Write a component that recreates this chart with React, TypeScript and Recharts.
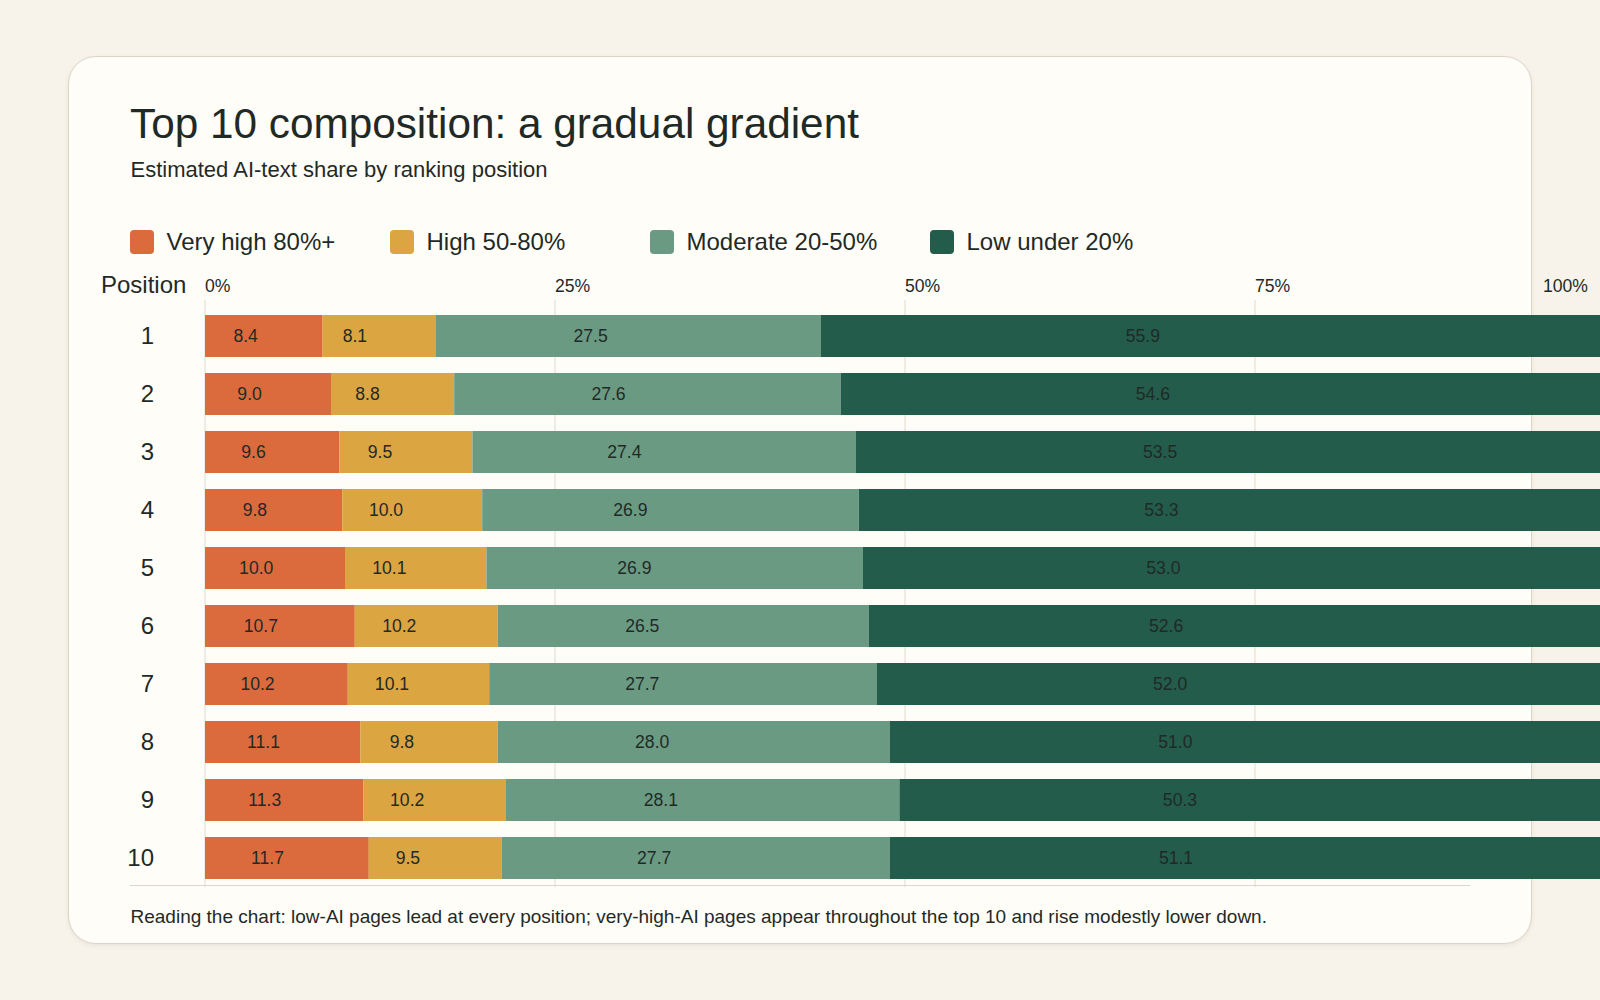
import React from "react";
import { BarChart, Bar, XAxis, YAxis, CartesianGrid, LabelList } from "recharts";

// Ranking positions and the AI-text share buckets (percent of pages)
const positions = ["1", "2", "3", "4", "5", "6", "7", "8", "9", "10"];
const veryHigh = [8.4, 9.0, 9.6, 9.8, 10.0, 10.7, 10.2, 11.1, 11.3, 11.7];
const high = [8.1, 8.8, 9.5, 10.0, 10.1, 10.2, 10.1, 9.8, 10.2, 9.5];
const moderate = [27.5, 27.6, 27.4, 26.9, 26.9, 26.5, 27.7, 28.0, 28.1, 27.7];
const low = [55.9, 54.6, 53.5, 53.3, 53.0, 52.6, 52.0, 51.0, 50.3, 51.1];
const xTicks = [0, 25, 50, 75, 100];

const SERIES = [
  { key: "veryHigh", name: "Very high 80%+", color: "#db6b3d", left: 130 },
  { key: "high", name: "High 50-80%", color: "#dba542", left: 390 },
  { key: "moderate", name: "Moderate 20-50%", color: "#6b9a83", left: 650 },
  { key: "low", name: "Low under 20%", color: "#245c4c", left: 930 },
];

const data = positions.map((pos, i) => ({
  pos,
  veryHigh: veryHigh[i],
  high: high[i],
  moderate: moderate[i],
  low: low[i],
}));

const FONT = '"Liberation Sans", Arial, Helvetica, sans-serif';
const INK = "#1f2a26";
const PLOT_LEFT = 105; // y-axis width inside the svg

const ValueLabel = (props: any) => {
  const { x, y, width, height, value } = props;
  const cx = x + width / 2;
  // labels sit a little left of the segment centre, as in the original
  const lx = PLOT_LEFT - 15 + (cx - PLOT_LEFT) * 0.946;
  return (
    <text
      x={lx}
      y={y + height / 2}
      dy="0.35em"
      textAnchor="middle"
      fontSize={17.6}
      fontFamily={FONT}
      fill={INK}
    >
      {Number(value).toFixed(1)}
    </text>
  );
};

const XTick = (props: any) => {
  const { x, y, payload } = props;
  const last = payload.value === 100;
  return (
    <text
      x={last ? x - 17 : x}
      y={y}
      textAnchor={last ? "end" : "start"}
      fontSize={17.6}
      fontFamily={FONT}
      fill={INK}
    >
      {payload.value}%
    </text>
  );
};

const YTick = (props: any) => {
  const { x, y, payload } = props;
  return (
    <text
      x={x}
      y={y}
      dy="0.35em"
      textAnchor="end"
      fontSize={24}
      fontFamily={FONT}
      fill={INK}
    >
      {payload.value}
    </text>
  );
};

const Legend = () => (
  <>
    {SERIES.map((s) => (
      <div
        key={s.key}
        style={{
          position: "absolute",
          left: s.left,
          top: 230,
          display: "flex",
          alignItems: "center",
          height: 24,
        }}
      >
        <span
          style={{
            width: 24,
            height: 24,
            borderRadius: 4,
            background: s.color,
            marginRight: 12.5,
            flexShrink: 0,
          }}
        />
        <span style={{ fontSize: 24, lineHeight: "24px", color: INK, whiteSpace: "nowrap" }}>
          {s.name}
        </span>
      </div>
    ))}
  </>
);

export default function App() {
  return (
    <div
      style={{
        position: "absolute",
        left: 0,
        top: 0,
        width: 1600,
        height: 1000,
        overflow: "hidden",
        background: "#f7f3ea",
        fontFamily: FONT,
        color: INK,
      }}
    >
      <div
        style={{
          position: "absolute",
          left: 68,
          top: 56,
          width: 1464,
          height: 888,
          boxSizing: "border-box",
          border: "1.5px solid #dcd4c6",
          borderRadius: 28,
          background: "#fffdf8",
          boxShadow: "0 2px 4px rgba(80, 64, 40, 0.08)",
        }}
      />

      <div style={{ position: "absolute", left: 130, top: 100.3, fontSize: 42.3, lineHeight: "48px", whiteSpace: "nowrap" }}>
        Top 10 composition: a gradual gradient
      </div>
      <div style={{ position: "absolute", left: 130.5, top: 157.4, fontSize: 22, lineHeight: "26px", whiteSpace: "nowrap" }}>
        Estimated AI-text share by ranking position
      </div>

      <Legend />

      <div style={{ position: "absolute", left: 101, top: 270.7, fontSize: 24, lineHeight: "28px" }}>
        Position
      </div>

      <div style={{ position: "absolute", left: 100, top: 260 }}>
        <BarChart
          width={1505}
          height={627}
          data={data}
          layout="vertical"
          margin={{ top: 0, right: 0, bottom: 0, left: 0 }}
        >
          <CartesianGrid horizontal={false} stroke="#ebe5dc" strokeWidth={1.5} />
          <XAxis
            type="number"
            orientation="top"
            domain={[0, 100]}
            ticks={xTicks}
            height={40}
            axisLine={false}
            tickLine={false}
            tickSize={0}
            tickMargin={8}
            tick={<XTick />}
            interval={0}
          />
          <YAxis
            type="category"
            dataKey="pos"
            width={PLOT_LEFT}
            axisLine={false}
            tickLine={false}
            tickSize={0}
            tickMargin={51}
            padding={{ top: 7, bottom: 0 }}
            tick={<YTick />}
            interval={0}
          />
          {SERIES.map((s) => (
            <Bar
              key={s.key}
              dataKey={s.key}
              name={s.name}
              stackId="share"
              fill={s.color}
              barSize={42}
              isAnimationActive={false}
            >
              <LabelList dataKey={s.key} content={<ValueLabel />} />
            </Bar>
          ))}
        </BarChart>
      </div>

      <div style={{ position: "absolute", left: 130, top: 885, width: 1340, height: 1, background: "#ddd6ca" }} />
      <div style={{ position: "absolute", left: 130.5, top: 905.5, fontSize: 19, lineHeight: "22px", whiteSpace: "nowrap" }}>
        Reading the chart: low-AI pages lead at every position; very-high-AI pages appear throughout the top 10 and rise modestly lower down.
      </div>
    </div>
  );
}
